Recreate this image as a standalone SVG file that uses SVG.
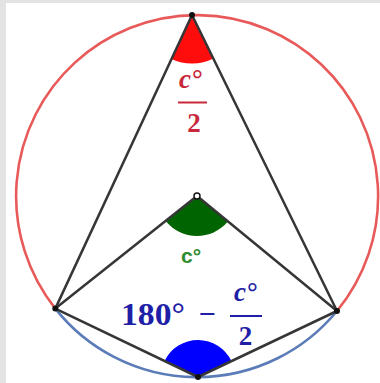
<svg xmlns="http://www.w3.org/2000/svg" width="380" height="383" viewBox="0 0 380 383">
  <style>
    .seg { stroke: #363636; stroke-width: 2.5; fill: none; stroke-linecap: round; }
    .pt { fill: #111111; }
    .serif { font-family: "Liberation Serif", "Times New Roman", serif; font-weight: bold; }
    .it { font-style: italic; }
    .red { fill: #c8283a; }
    .blue { fill: #1e1ea6; }
  </style>
  <rect x="0" y="0" width="380" height="383" fill="#ffffff"/>
  <rect x="0" y="0" width="6" height="383" fill="#e3e3e3"/>
  <rect x="0" y="0" width="380" height="3" fill="#e3e3e3"/>

  <g id="arc-major">
    <path d="M55.3,308.6 A181,181 0 1 1 337,311" fill="none" stroke="#e85a5a" stroke-width="2.6"/>
  </g>
  <g id="arc-minor">
    <path d="M55.3,308.6 A181,181 0 0 0 337,311" fill="none" stroke="#5b7cb8" stroke-width="2.6"/>
  </g>

  <g id="angle-A">
    <path d="M192,15 L171.4,59 A49,49 0 0 0 213.5,58.5 Z" fill="#ff0d0d"/>
  </g>
  <g id="angle-O">
    <path d="M197,196 L165.7,220.9 A40,40 0 0 0 227.9,221.4 Z" fill="#006400"/>
  </g>
  <g id="angle-D">
    <path d="M198,377 L164.7,360.8 A37,37 0 0 1 231.4,361.1 Z" fill="#0000ff"/>
  </g>

  <g id="connectors">
    <line class="seg" x1="192" y1="15" x2="55.3" y2="308.6"/>
    <line class="seg" x1="192" y1="15" x2="337" y2="311"/>
    <line class="seg" x1="197" y1="196" x2="55.3" y2="308.6"/>
    <line class="seg" x1="197" y1="196" x2="337" y2="311"/>
    <line class="seg" x1="55.3" y1="308.6" x2="198" y2="377"/>
    <line class="seg" x1="198" y1="377" x2="337" y2="311"/>
  </g>

  <g id="point-A"><circle class="pt" cx="192" cy="15" r="3"/></g>
  <g id="point-B"><circle class="pt" cx="55.3" cy="308.6" r="3"/></g>
  <g id="point-C"><circle class="pt" cx="337" cy="311" r="3"/></g>
  <g id="point-D"><circle class="pt" cx="198" cy="377" r="3"/></g>
  <g id="point-O"><circle cx="197" cy="196" r="3" fill="#ffffff" stroke="#111111" stroke-width="1.4"/></g>

  <g id="label-A">
    <text class="serif red" x="179" y="88" font-size="27"><tspan class="it">c</tspan><tspan dx="1">°</tspan></text>
    <line x1="178" y1="102.5" x2="207" y2="102.5" stroke="#c8283a" stroke-width="2"/>
    <text class="serif red" x="194" y="132" font-size="27" text-anchor="middle">2</text>
  </g>

  <g id="label-O">
    <text x="181" y="263" font-family="'Liberation Sans', Arial, sans-serif" font-weight="bold" font-size="21" fill="#2e8b2e">c°</text>
  </g>

  <g id="label-D">
    <text class="serif blue" x="121" y="325" font-size="31" textLength="64" lengthAdjust="spacingAndGlyphs">180°</text>
    <text class="serif blue" x="207" y="324" font-size="30" text-anchor="middle">−</text>
    <line x1="230" y1="316" x2="262" y2="316" stroke="#1e1ea6" stroke-width="2"/>
    <text class="serif blue" x="234" y="301" font-size="27"><tspan class="it">c</tspan><tspan dx="1">°</tspan></text>
    <text class="serif blue" x="245.5" y="345" font-size="27" text-anchor="middle">2</text>
  </g>
</svg>
